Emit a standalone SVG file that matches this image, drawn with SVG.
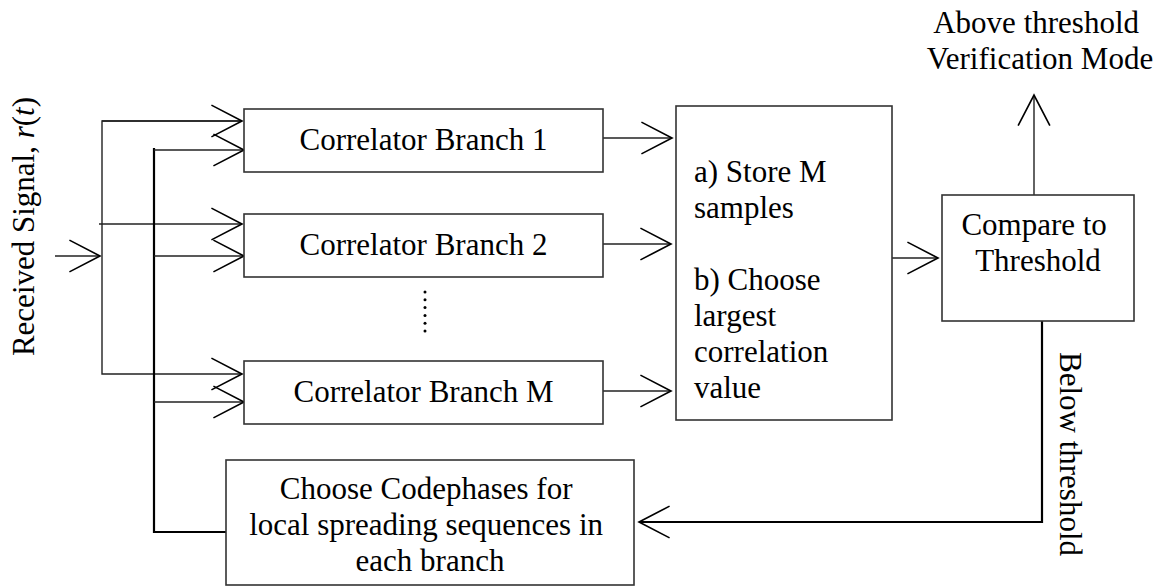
<svg xmlns="http://www.w3.org/2000/svg" width="1161" height="586" viewBox="0 0 1161 586">
  <defs>
    <marker id="open" markerUnits="userSpaceOnUse" markerWidth="40" markerHeight="40" viewBox="-30 -16 34 32" refX="0" refY="0" orient="auto">
      <path d="M-26,-13.5 L0,0 L-26,13.5" fill="none" stroke="#000" stroke-width="1.4"/>
    </marker>
  </defs>
  <style>
    text { font-family: "Liberation Serif", "Times New Roman", serif; font-size: 31px; fill: #000; }
    .box { fill: #fff; stroke: #333; stroke-width: 1.6; }
    .wire { fill: none; stroke: #222; stroke-width: 1.4; }
    .fb { fill: none; stroke: #000; stroke-width: 2.2; }
    .mid { text-anchor: middle; }
  </style>
  <rect width="1161" height="586" fill="#fff"/>

  <g id="connectors">
    <!-- received signal into the input bus -->
    <line class="wire" x1="55" y1="256" x2="100" y2="256" marker-end="url(#open)"/>
    <!-- input bus feeding each branch -->
    <polyline class="wire" points="242,121 102,121 102,374 242,374" marker-end="url(#open)"/>
    <line class="wire" x1="102" y1="121" x2="242" y2="121" marker-end="url(#open)"/>
    <line class="wire" x1="99" y1="224" x2="242" y2="224" marker-end="url(#open)"/>
    <!-- codephase bus from the chooser -->
    <polyline class="fb" points="226,532 154,532 154,148"/>
    <line class="wire" x1="154" y1="150" x2="244" y2="150" marker-end="url(#open)"/>
    <line class="wire" x1="154" y1="256" x2="244" y2="256" marker-end="url(#open)"/>
    <line class="wire" x1="154" y1="402" x2="244" y2="402" marker-end="url(#open)"/>
    <!-- branch outputs -->
    <line class="wire" x1="603" y1="138" x2="672" y2="138" marker-end="url(#open)"/>
    <line class="wire" x1="603" y1="244" x2="671" y2="244" marker-end="url(#open)"/>
    <line class="wire" x1="603" y1="391" x2="671" y2="391" marker-end="url(#open)"/>
    <!-- selector to comparator -->
    <line class="wire" x1="892" y1="258" x2="938" y2="258" marker-end="url(#open)"/>
    <!-- above threshold -->
    <line class="wire" x1="1034" y1="195" x2="1034" y2="95" marker-end="url(#open)"/>
    <!-- below threshold back to the chooser -->
    <polyline class="fb" points="1042,321 1042,522 639,522" marker-end="url(#open)"/>
  </g>

  <g id="branch1">
    <rect class="box" x="244" y="109" width="359" height="63"/>
    <text class="mid" x="423.5" y="150">Correlator Branch 1</text>
  </g>
  <g id="branch2">
    <rect class="box" x="244" y="214" width="359" height="63"/>
    <text class="mid" x="423.5" y="255">Correlator Branch 2</text>
  </g>
  <g id="ellipsis">
    <circle cx="425" cy="292" r="1.5"/>
    <circle cx="425" cy="299.8" r="1.5"/>
    <circle cx="425" cy="307.6" r="1.5"/>
    <circle cx="425" cy="315.4" r="1.5"/>
    <circle cx="425" cy="323.2" r="1.5"/>
    <circle cx="425" cy="331" r="1.5"/>
  </g>
  <g id="branchM">
    <rect class="box" x="244" y="361" width="359" height="63"/>
    <text class="mid" x="423.5" y="402">Correlator Branch M</text>
  </g>

  <g id="selector">
    <rect class="box" x="676" y="106" width="216" height="314"/>
    <text x="694">
      <tspan x="694" y="182">a) Store M</tspan>
      <tspan x="694" y="218">samples</tspan>
      <tspan x="694" y="290">b) Choose</tspan>
      <tspan x="694" y="326">largest</tspan>
      <tspan x="694" y="362">correlation</tspan>
      <tspan x="694" y="398">value</tspan>
    </text>
  </g>

  <g id="compare">
    <rect class="box" x="942" y="195" width="192" height="126"/>
    <text class="mid">
      <tspan x="1038" y="235">Compare to</tspan>
      <tspan x="1038" y="271">Threshold</tspan>
    </text>
  </g>

  <g id="chooser">
    <rect class="box" x="226" y="460" width="408" height="125"/>
    <text class="mid">
      <tspan x="430" y="499">Choose Codephases for</tspan>
      <tspan x="430" y="535">local spreading sequences in</tspan>
      <tspan x="430" y="571">each branch</tspan>
    </text>
  </g>

  <g id="labels">
    <text class="mid" transform="translate(34,226.5) rotate(-90)">Received Signal, <tspan font-style="italic">r</tspan>(<tspan font-style="italic">t</tspan>)</text>
    <text class="mid">
      <tspan x="1040" y="33">Above threshold</tspan>
      <tspan x="1040" y="69">Verification Mode</tspan>
    </text>
    <text class="mid" transform="translate(1060,454) rotate(90)">Below threshold</text>
  </g>
</svg>
